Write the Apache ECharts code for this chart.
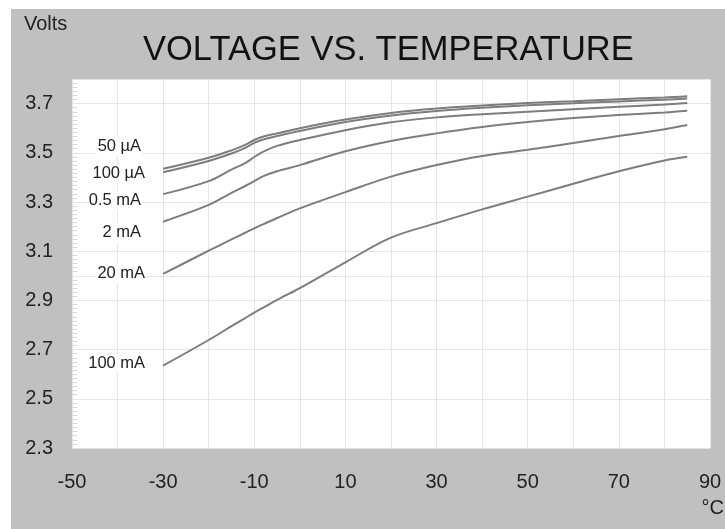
<!DOCTYPE html>
<html>
<head>
<meta charset="utf-8">
<script src="https://cdn.jsdelivr.net/npm/echarts@6/dist/echarts.min.js"></script>
<style>
  html, body { margin: 0; padding: 0; background: #ffffff; }
  #chart { position: absolute; left: 11px; top: 9px; width: 714px; height: 520px; }
</style>
</head>
<body>
<div id="chart"></div>
<script>
// ---- data ----
const temps = [-30, -20, -15, -12, -10, -8, -5, 0, 10, 20, 30, 40, 50, 60, 70, 80, 85];
const seriesNames = ['50 µA', '100 µA', '0.5 mA', '2 mA', '20 mA', '100 mA'];
const v50uA  = [3.435, 3.480, 3.510, 3.532, 3.552, 3.566, 3.579, 3.600, 3.635, 3.662, 3.680, 3.692, 3.702, 3.710, 3.718, 3.725, 3.730];
const v100uA = [3.421, 3.467, 3.497, 3.520, 3.540, 3.554, 3.568, 3.589, 3.625, 3.652, 3.670, 3.683, 3.693, 3.701, 3.709, 3.716, 3.721];
const v05mA  = [3.332, 3.385, 3.432, 3.458, 3.483, 3.505, 3.528, 3.552, 3.592, 3.624, 3.644, 3.657, 3.667, 3.677, 3.687, 3.696, 3.702];
const v2mA   = [3.220, 3.288, 3.337, 3.365, 3.385, 3.405, 3.425, 3.450, 3.506, 3.548, 3.579, 3.605, 3.625, 3.641, 3.654, 3.664, 3.671];
const v20mA  = [3.008, 3.102, 3.148, 3.175, 3.193, 3.210, 3.235, 3.274, 3.340, 3.403, 3.450, 3.487, 3.512, 3.540, 3.568, 3.596, 3.613];
const v100mA = [2.635, 2.739, 2.795, 2.828, 2.850, 2.871, 2.902, 2.950, 3.055, 3.155, 3.214, 3.270, 3.322, 3.374, 3.425, 3.469, 3.484];
const allValues = [v50uA, v100uA, v05mA, v2mA, v20mA, v100mA];
const xTickLabels = ['-50', '-30', '-10', '10', '30', '50', '70', '90'];
const yTickLabels = ['2.3', '2.5', '2.7', '2.9', '3.1', '3.3', '3.5', '3.7'];
const extraGridY = 3.0;

// label placement (style only)
const labelDist = [21, 17, 21, 21, 17, 17];
const labelDy   = [-22, 1, 6, 11, 0, -2];

const FONT = 'Liberation Sans, Arial, Helvetica, sans-serif';
const chart = echarts.init(document.getElementById('chart'), null, { renderer: 'canvas' });

const series = allValues.map((vals, si) => ({
  name: seriesNames[si],
  type: 'line',
  smooth: 0.35,
  showSymbol: true,
  symbol: 'circle',
  symbolSize: 0.1,
  itemStyle: { color: 'rgba(0,0,0,0)' },
  lineStyle: { color: '#7d7d7d', width: 2 },
  silent: true,
  z: 3,
  data: temps.map((t, i) => i === 0 ? {
    value: [t, vals[i]],
    label: {
      show: true,
      position: 'left',
      distance: labelDist[si],
      offset: [0, labelDy[si]],
      formatter: seriesNames[si],
      fontFamily: FONT,
      fontSize: 16.5,
      color: '#222',
      backgroundColor: '#ffffff',
      padding: [1, 1]
    }
  } : [t, vals[i]]),
  markLine: si === 0 ? {
    silent: true,
    symbol: 'none',
    label: { show: false },
    lineStyle: { color: '#e6e6e6', width: 1, type: 'solid' },
    z: 1,
    data: [{ yAxis: extraGridY }]
  } : undefined
}));

chart.setOption({
  backgroundColor: '#c0c0c0',
  animation: false,
  title: [
    { text: 'Volts', left: 13, top: 5, padding: 0,
      textStyle: { fontFamily: FONT, fontSize: 20, fontWeight: 'normal', color: '#222' } },
    { text: 'VOLTAGE VS. TEMPERATURE', left: 132, top: 24, padding: 0,
      textStyle: { fontFamily: FONT, fontSize: 34.5, fontWeight: 'normal', color: '#111' } },
    { text: '°C', right: 1, top: 489, padding: 0,
      textStyle: { fontFamily: FONT, fontSize: 20, fontWeight: 'normal', color: '#222' } }
  ],
  grid: {
    left: 61, right: 15, top: 70, bottom: 81,
    show: true, backgroundColor: '#ffffff', borderWidth: 0
  },
  xAxis: {
    type: 'value', min: -50, max: 90, interval: 10,
    axisLine: { show: false, onZero: false }, axisTick: { show: false },
    splitLine: { show: true, lineStyle: { color: '#e6e6e6', width: 1 } },
    axisLabel: {
      margin: 24, fontFamily: FONT, fontSize: 20, color: '#222',
      formatter: v => { const s = String(Math.round(v)); return xTickLabels.includes(s) ? s : ''; }
    }
  },
  yAxis: {
    type: 'value', min: 2.3, max: 3.8, interval: 0.2,
    axisLine: { show: false, onZero: false },
    axisTick: { show: false, inside: true },
    minorTick: { show: true, splitNumber: 12, length: 5, lineStyle: { color: '#d8d8d8', width: 1 } },
    minorSplitLine: { show: false },
    splitLine: { show: true, lineStyle: { color: '#e6e6e6', width: 1 } },
    axisLabel: {
      margin: 19, fontFamily: FONT, fontSize: 20, color: '#222',
      formatter: v => { const s = v.toFixed(1); return yTickLabels.includes(s) ? s : ''; }
    }
  },
  series: series
});
</script>
</body>
</html>
